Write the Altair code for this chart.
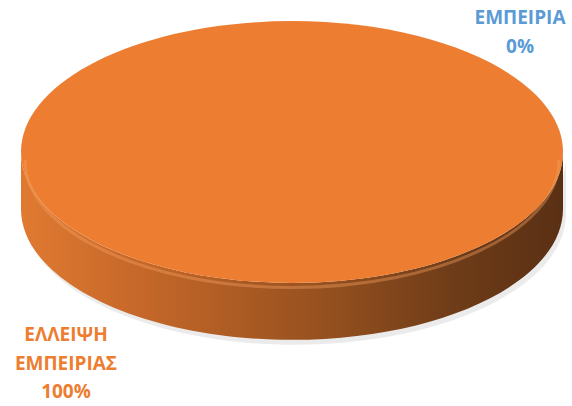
import altair as alt
import pandas as pd

categories = ["ΕΜΠΕΙΡΙΑ", "ΕΛΛΕΙΨΗ ΕΜΠΕΙΡΙΑΣ"]
values = [0, 100]
colors = ["#5B9BD5", "#ED7D31"]

df = pd.DataFrame({"category": categories, "value": values})
base = alt.Chart(df)

# unit-shape paths (x from -1..1), ellipse ratio and depth of the 3D disc
TOP = "M -1 0 A 1 0.483 0 1 1 1 0 A 1 0.483 0 1 1 -1 0 Z"
SIDE = "M -1 0 L -1 0.21 A 1 0.483 0 0 0 1 0.21 L 1 0 A 1 0.483 0 0 1 -1 0 Z"
RIM = "M -0.985 0.03 A 0.985 0.47 0 0 0 0.985 0.03"
SIZE = 542 ** 2
CX, CY = 292, 152

color_scale = alt.Scale(domain=categories, range=colors)
slices = base.transform_filter("datum.value > 0")

shadow = slices.mark_point(shape=SIDE, size=SIZE, filled=True, fill="#000000",
                           opacity=0.08, strokeWidth=0).encode(
    x=alt.value(CX + 3), y=alt.value(CY + 5))

side = slices.mark_point(
    shape=SIDE, size=SIZE, filled=True, opacity=1, strokeWidth=0,
    fill=alt.LinearGradient(
        gradient="linear", x1=0, x2=1, y1=0, y2=0,
        stops=[alt.GradientStop(color="#E07A31", offset=0),
               alt.GradientStop(color="#C8692A", offset=0.2),
               alt.GradientStop(color="#97511F", offset=0.55),
               alt.GradientStop(color="#6E3C18", offset=0.8),
               alt.GradientStop(color="#5A3014", offset=1)]),
).encode(x=alt.value(CX), y=alt.value(CY))

top = slices.mark_point(shape=TOP, size=SIZE, filled=True, opacity=1, strokeWidth=0).encode(
    x=alt.value(CX), y=alt.value(CY),
    color=alt.Color("category:N", scale=color_scale, legend=None))

rim = slices.mark_point(shape=RIM, size=SIZE, filled=False, stroke="#F6A062",
                        strokeWidth=3, opacity=0.4).encode(
    x=alt.value(CX), y=alt.value(CY))

labels = base.transform_calculate(
    label="replace(datum.category, ' ', '\\n') + '\\n' + datum.value + '%'")

def label_layer(cat, x, y):
    return labels.transform_filter(alt.datum.category == cat).mark_text(
        font="Open Sans", fontWeight="bold", fontSize=19, lineBreak="\n",
        lineHeight=28.5, align="center", baseline="middle").encode(
        text="label:N",
        x=alt.value(x), y=alt.value(y),
        color=alt.Color("category:N", scale=color_scale, legend=None))

lab1 = label_layer(categories[0], 520, 18)
lab2 = label_layer(categories[1], 66, 335)

chart = alt.layer(shadow, side, top, rim, lab1, lab2).properties(
    width=572, height=406, autosize="none", padding=0,
    background="white").configure_view(stroke=None)

chart.save("out.html", embed_options={"renderer": "svg", "actions": False})
